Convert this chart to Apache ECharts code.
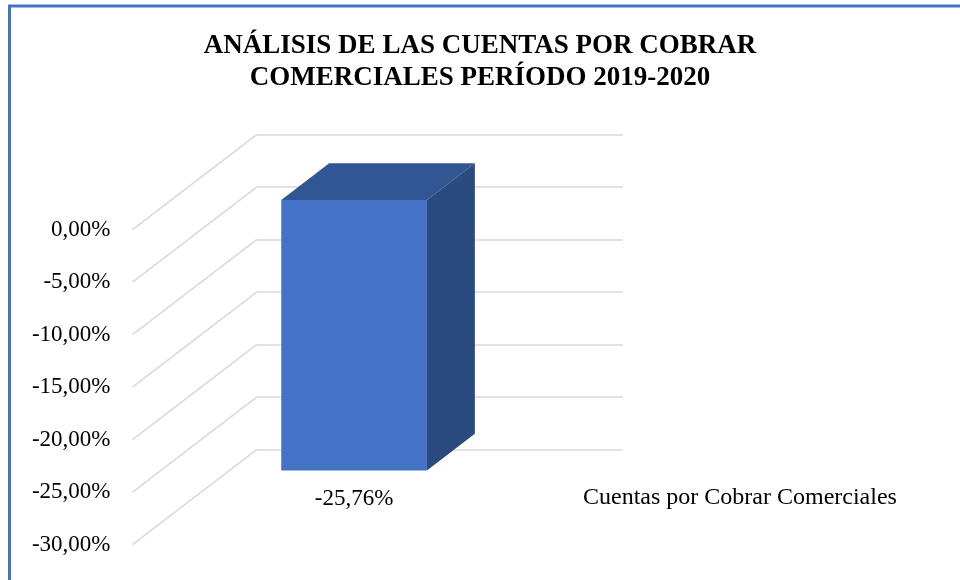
<!DOCTYPE html>
<html>
<head>
<meta charset="utf-8">
<script src="https://cdn.jsdelivr.net/npm/echarts@6/dist/echarts.min.js"></script>
<style>
  html, body { margin: 0; padding: 0; background: #ffffff; }
  #chart { width: 960px; height: 580px; }
</style>
</head>
<body>
<div id="chart"></div>
<script>
// Series data
const categories = ['Cuentas por Cobrar Comerciales'];
const seriesName = 'Cuentas por Cobrar Comerciales';
const values = [-25.76];
// Value axis ticks (percent)
const yTicks = [0, -5, -10, -15, -20, -25, -30];

const SERIF = '"Liberation Serif", "Times New Roman", serif';
// Perspective shift from the back wall to the front edge of the floor
const DEPTH_X = -124.5;
const DEPTH_Y = 95.3;
// Column occupies this slice of the depth (0 = back wall, 1 = front edge)
const FRONT_F = 0.69;
const BACK_F = 0.305;
const BAR_RATIO = 0.398;

const fmtPct = v => v.toFixed(2).replace('.', ',') + '%';

const chart = echarts.init(document.getElementById('chart'));

const option = {
  backgroundColor: '#ffffff',
  animation: false,
  title: {
    text: 'ANÁLISIS DE LAS CUENTAS POR COBRAR\nCOMERCIALES PERÍODO 2019-2020',
    left: 'center',
    top: 25,
    textStyle: {
      fontFamily: SERIF,
      fontWeight: 'bold',
      fontSize: 27,
      lineHeight: 32,
      color: '#000000'
    }
  },
  legend: {
    data: [seriesName],
    left: 578,
    top: 486,
    padding: 0,
    icon: 'none',
    itemWidth: 0,
    itemHeight: 24,
    selectedMode: false,
    textStyle: { fontFamily: SERIF, fontSize: 24, color: '#000000' }
  },
  graphic: [{
    type: 'rect',
    shape: { x: 9.5, y: 6, width: 1000, height: 1000 },
    style: { fill: 'none', stroke: '#4472C4', lineWidth: 3 },
    z: 10
  }],
  grid: [
    // back wall
    { left: 257, top: 134.3, width: 366, height: 315 },
    // front edge of the floor (carries the value labels)
    { left: 257 + DEPTH_X, top: 134.3 + DEPTH_Y, width: 366, height: 315 }
  ],
  xAxis: [
    { type: 'category', gridIndex: 0, data: categories, show: false },
    { type: 'category', gridIndex: 1, data: categories, show: false }
  ],
  yAxis: [
    {
      type: 'value', gridIndex: 0, min: -30, max: 0, interval: 5,
      axisLine: { show: false }, axisTick: { show: false }, axisLabel: { show: false },
      splitLine: { show: true, lineStyle: { color: '#d9d9d9', width: 1.5 } }
    },
    {
      type: 'value', gridIndex: 1, min: -30, max: 0, interval: 5,
      axisLine: { show: false }, axisTick: { show: false },
      splitLine: { show: false },
      axisLabel: {
        margin: 22,
        fontFamily: SERIF, fontSize: 23, color: '#000000',
        formatter: v => fmtPct(v)
      }
    }
  ],
  series: [
    {
      // side-wall gridlines running from the back wall to the front edge
      type: 'custom',
      xAxisIndex: 0, yAxisIndex: 0,
      silent: true,
      z: 1,
      data: yTicks.map(v => [0, v]),
      renderItem: function (params, api) {
        const y = api.coord([0, api.value(1)])[1];
        const x = params.coordSys.x;
        return {
          type: 'line',
          shape: { x1: x, y1: y, x2: x + DEPTH_X, y2: y + DEPTH_Y },
          style: { stroke: '#d9d9d9', lineWidth: 1.5 }
        };
      }
    },
    {
      name: seriesName,
      type: 'custom',
      xAxisIndex: 0, yAxisIndex: 0,
      z: 3,
      itemStyle: { color: '#4472C4' },
      data: values.map((v, i) => [i, v]),
      renderItem: function (params, api) {
        const band = api.size([1, 0])[0];
        const half = band * BAR_RATIO / 2;
        const base = api.coord([api.value(0), 0]);
        const end = api.coord([api.value(0), api.value(1)]);
        const at = (p, f, side) => [p[0] + side + f * DEPTH_X, p[1] + f * DEPTH_Y];

        const fBL = at(base, FRONT_F, -half), fBR = at(base, FRONT_F, half);
        const fEL = at(end, FRONT_F, -half), fER = at(end, FRONT_F, half);
        const bBL = at(base, BACK_F, -half), bBR = at(base, BACK_F, half);
        const bER = at(end, BACK_F, half);

        return {
          type: 'group',
          children: [
            { type: 'polygon', shape: { points: [fBR, fER, bER, bBR] },
              style: { fill: '#2B4A80' } },
            { type: 'polygon', shape: { points: [fBL, fBR, bBR, bBL] },
              style: { fill: '#315694' } },
            { type: 'polygon', shape: { points: [fBL, fBR, fER, fEL] },
              style: { fill: '#4472C4' } },
            { type: 'text',
              style: {
                x: (fEL[0] + fER[0]) / 2, y: fER[1] + 28,
                text: fmtPct(api.value(1)),
                align: 'center', verticalAlign: 'middle',
                font: '23px ' + SERIF, fill: '#000000'
              } }
          ]
        };
      }
    }
  ]
};

chart.setOption(option);
</script>
</body>
</html>
